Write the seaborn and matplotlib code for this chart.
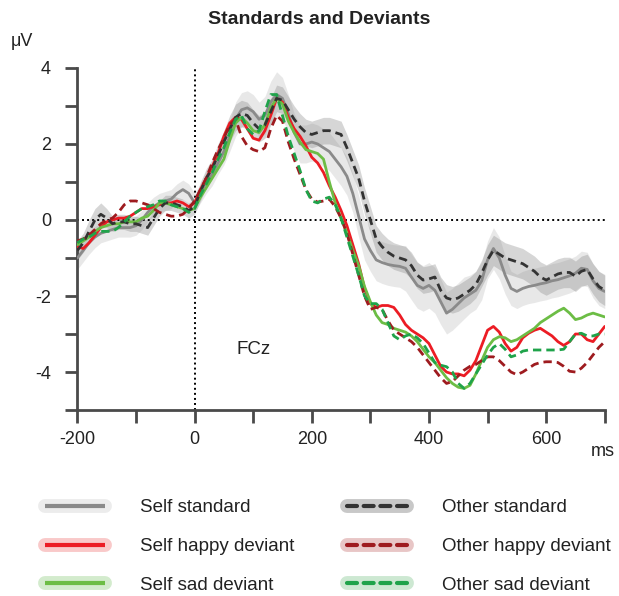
import numpy as np
import pandas as pd
import seaborn as sns
import matplotlib.pyplot as plt
from matplotlib.lines import Line2D
from matplotlib.legend_handler import HandlerTuple

# time axis (ms), one sample every 10 ms
times = list(range(-200, 701, 10))

self_standard = [
    -1.0, -0.8, -0.6, -0.45, -0.35, -0.3, -0.25, -0.2, -0.2, -0.2,
    -0.15, 0.0, 0.2, 0.35, 0.45, 0.5, 0.55, 0.7, 0.8, 0.7,
    0.45, 0.7, 1.0, 1.2, 1.5, 1.8, 2.2, 2.65, 2.9, 2.95,
    2.85, 2.65, 2.75, 3.1, 3.3, 3.2, 2.8, 2.3, 2.0, 2.0,
    2.05, 2.0, 1.9, 1.8, 1.6, 1.4, 1.15, 0.7, 0.1, -0.5,
    -0.8, -1.05, -1.12, -1.17, -1.2, -1.22, -1.27, -1.5, -1.72, -1.8,
    -1.72, -1.85, -2.15, -2.45, -2.35, -2.2, -2.05, -1.95, -1.85, -1.6,
    -1.05, -0.75, -1.0, -1.45, -1.8, -1.88, -1.8, -1.75, -1.72, -1.68,
    -1.65, -1.6, -1.57, -1.52, -1.47, -1.4, -1.27, -1.3, -1.6, -1.8,
    -1.88]
other_standard = [
    -0.8, -0.6, -0.3, 0.0, 0.15, 0.05, -0.1, -0.05, -0.05, -0.1,
    -0.1, -0.15, -0.2, 0.05, 0.3, 0.45, 0.45, 0.4, 0.35, 0.25,
    0.35, 0.75, 1.1, 1.35, 1.7, 2.05, 2.4, 2.7, 2.8, 2.75,
    2.55, 2.4, 2.5, 2.85, 3.2, 3.15, 2.9, 2.65, 2.45, 2.3,
    2.25, 2.3, 2.35, 2.35, 2.3, 2.25, 1.9, 1.5, 1.1, 0.5,
    0.0, -0.5, -0.7, -0.85, -0.95, -1.0, -1.05, -1.2, -1.45, -1.58,
    -1.55, -1.5, -1.85, -2.05, -2.1, -2.05, -1.95, -1.85, -1.7, -1.4,
    -1.05, -0.8, -0.9, -1.0, -1.05, -1.1, -1.15, -1.25, -1.35, -1.5,
    -1.58, -1.5, -1.42, -1.38, -1.38, -1.48, -1.35, -1.3, -1.55, -1.75,
    -1.85]
self_happy = [
    -0.7, -0.75, -0.6, -0.4, -0.2, -0.05, 0.0, 0.05, 0.05, 0.1,
    0.2, 0.3, 0.3, 0.35, 0.4, 0.45, 0.45, 0.5, 0.45, 0.35,
    0.45, 0.8, 1.1, 1.4, 1.75, 2.2, 2.55, 2.7, 2.65, 2.4,
    2.15, 2.1, 2.35, 2.75, 3.2, 3.1, 2.7, 2.4, 2.2, 1.95,
    1.65, 1.5, 1.25, 0.9, 0.6, 0.25, -0.15, -0.65, -1.15, -1.8,
    -2.2, -2.3, -2.25, -2.25, -2.3, -2.5, -2.75, -2.9, -3.0, -3.1,
    -3.25, -3.55, -3.85, -4.0, -4.05, -4.05, -4.1, -3.95, -3.7, -3.3,
    -2.9, -2.8, -2.95, -3.25, -3.45, -3.35, -3.1, -2.98, -2.9, -2.85,
    -2.95, -3.05, -3.2, -3.3, -3.2, -3.0, -3.0, -3.15, -3.2, -3.0,
    -2.8]
other_happy = [
    -0.55, -0.5, -0.4, -0.25, -0.1, 0.0, 0.05, 0.2, 0.4, 0.5,
    0.5, 0.45, 0.4, 0.3, 0.2, 0.15, 0.1, 0.1, 0.15, 0.3,
    0.5, 0.8, 1.1, 1.5, 1.85, 2.15, 2.5, 2.65, 2.2, 1.95,
    1.85, 1.8, 1.9, 2.4, 2.75, 2.6, 2.05, 1.6, 1.2, 0.8,
    0.55, 0.47, 0.5, 0.55, 0.35, 0.05, -0.35, -0.9, -1.45, -2.0,
    -2.35, -2.3, -2.35, -2.65, -2.9, -3.0, -3.1, -3.2, -3.35, -3.55,
    -3.75, -3.95, -4.15, -4.3, -4.25, -4.1, -3.95, -3.85, -3.8, -3.7,
    -3.6, -3.6, -3.7, -3.85, -4.0, -4.07, -4.0, -3.9, -3.8, -3.75,
    -3.73, -3.73, -3.75, -3.85, -3.98, -4.0, -3.9, -3.75, -3.55, -3.35,
    -3.2]
self_sad = [
    -0.65, -0.55, -0.45, -0.3, -0.2, -0.15, -0.1, -0.1, -0.05, -0.05,
    -0.05, 0.05, 0.1, 0.25, 0.45, 0.45, 0.4, 0.35, 0.3, 0.25,
    0.3, 0.6, 0.85, 1.1, 1.35, 1.6, 2.1, 2.55, 2.7, 2.55,
    2.35, 2.3, 2.5, 2.95, 3.2, 3.05, 2.6, 2.3, 2.05, 1.85,
    1.8, 1.75, 1.6, 1.0, 0.45, 0.05, -0.35, -0.8, -1.2, -1.75,
    -2.15, -2.5, -2.7, -2.75, -2.85, -2.9, -2.95, -3.05, -3.2, -3.4,
    -3.6, -3.75, -3.95, -4.15, -4.3, -4.4, -4.43, -4.35, -4.05, -3.7,
    -3.35, -3.15, -3.07, -3.1, -3.2, -3.15, -3.05, -2.95, -2.85, -2.7,
    -2.6, -2.5, -2.4, -2.32, -2.45, -2.62, -2.58, -2.5, -2.45, -2.5,
    -2.55]
other_sad = [
    -0.6, -0.5, -0.45, -0.35, -0.3, -0.3, -0.3, -0.2, -0.05, 0.1,
    0.2, 0.3, 0.35, 0.4, 0.5, 0.5, 0.4, 0.35, 0.3, 0.2,
    0.3, 0.65, 0.95, 1.25, 1.6, 1.9, 2.3, 2.65, 2.75, 2.4,
    2.25, 2.35, 2.85, 3.3, 3.3, 2.75, 2.2, 1.75, 1.3, 0.8,
    0.5, 0.45, 0.55, 0.6, 0.4, 0.05, -0.45, -0.95, -1.45, -2.0,
    -2.2, -2.2, -2.35, -2.7, -3.05, -3.15, -3.05, -3.0, -3.1, -3.25,
    -3.5, -3.75, -3.82, -3.86, -4.0, -4.3, -4.43, -4.3, -4.05, -3.8,
    -3.55, -3.35, -3.25, -3.4, -3.6, -3.55, -3.45, -3.42, -3.42, -3.42,
    -3.42, -3.42, -3.42, -3.4, -3.2, -3.0, -2.98, -3.05, -3.05, -3.0,
    -3.0]

# standard errors of the two standards (shaded bands)
self_standard_se = [
    0.3, 0.3, 0.3, 0.28, 0.25, 0.25, 0.25, 0.25, 0.25, 0.25,
    0.25, 0.25, 0.25, 0.25, 0.25, 0.25, 0.25, 0.25, 0.25, 0.25,
    0.25, 0.25, 0.3, 0.3, 0.3, 0.35, 0.4, 0.45, 0.45, 0.45,
    0.45, 0.45, 0.5, 0.55, 0.6, 0.55, 0.5, 0.5, 0.5, 0.5,
    0.5, 0.5, 0.5, 0.5, 0.5, 0.5, 0.5, 0.5, 0.55, 0.55,
    0.55, 0.55, 0.55, 0.55, 0.55, 0.55, 0.6, 0.6, 0.6, 0.6,
    0.6, 0.6, 0.6, 0.55, 0.55, 0.55, 0.55, 0.5, 0.5, 0.5,
    0.5, 0.55, 0.55, 0.5, 0.45, 0.45, 0.45, 0.45, 0.45, 0.45,
    0.45, 0.45, 0.45, 0.45, 0.45, 0.45, 0.45, 0.45, 0.45, 0.45,
    0.45]
other_standard_se = [
    0.25, 0.25, 0.3, 0.3, 0.3, 0.25, 0.2, 0.2, 0.2, 0.2,
    0.2, 0.2, 0.2, 0.2, 0.2, 0.2, 0.2, 0.2, 0.2, 0.2,
    0.2, 0.25, 0.25, 0.25, 0.3, 0.3, 0.35, 0.35, 0.35, 0.35,
    0.35, 0.35, 0.35, 0.35, 0.35, 0.35, 0.35, 0.35, 0.35, 0.35,
    0.35, 0.35, 0.35, 0.35, 0.35, 0.35, 0.35, 0.35, 0.35, 0.35,
    0.35, 0.35, 0.35, 0.35, 0.35, 0.35, 0.35, 0.35, 0.35, 0.35,
    0.35, 0.35, 0.35, 0.35, 0.35, 0.35, 0.35, 0.35, 0.35, 0.35,
    0.4, 0.4, 0.4, 0.4, 0.4, 0.4, 0.4, 0.4, 0.4, 0.4,
    0.4, 0.4, 0.4, 0.4, 0.4, 0.4, 0.4, 0.4, 0.4, 0.4,
    0.4]

conditions = ["Self standard", "Self happy deviant", "Self sad deviant",
              "Other standard", "Other happy deviant", "Other sad deviant"]
series = [self_standard, self_happy, self_sad,
          other_standard, other_happy, other_sad]
colors = ["#8a8a8a", "#ec1c24", "#6cbd45", "#333333", "#9e1b1f", "#1fa34a"]
band_colors = ["#ececec", "#f9c9c9", "#d3ebcd", "#c8c8c8", "#e8c6c6", "#cde8d2"]
dashed = [False, False, False, True, True, True]

df = pd.concat([pd.DataFrame({"ms": times, "uV": v, "cond": c})
                for c, v in zip(conditions, series)])

sns.set_theme(style="ticks")
plt.rcParams['font.family'] = ['Liberation Sans', 'DejaVu Sans']
spine_col = "#4a4a4a"
text_col = "#222222"

fig, ax = plt.subplots(figsize=(6.19, 5.96), dpi=100)
fig.subplots_adjust(left=0.125, right=0.977, top=0.886, bottom=0.312)

# SE bands of the standards
ax.fill_between(times, np.array(self_standard) - self_standard_se,
                np.array(self_standard) + self_standard_se,
                color="#9a9a9a", alpha=0.22, lw=0, zorder=1)
ax.fill_between(times, np.array(other_standard) - other_standard_se,
                np.array(other_standard) + other_standard_se,
                color="#8a8a8a", alpha=0.35, lw=0, zorder=1)

ax.axhline(0, color="black", lw=1.4, ls=(0, (1, 1.6)), zorder=2)
ax.axvline(0, color="black", lw=1.4, ls=(0, (1, 1.6)), zorder=2)

sns.lineplot(data=df, x="ms", y="uV", hue="cond", style="cond",
             hue_order=conditions, style_order=conditions,
             palette=dict(zip(conditions, colors)),
             dashes={c: ((3, 1.8) if d else "") for c, d in zip(conditions, dashed)},
             linewidth=2.0, legend=False, ax=ax, zorder=3)

ax.set_xlim(-200, 700)
ax.set_ylim(-5, 4)
ax.set_xticks(range(-200, 701, 100))
ax.set_xticklabels([str(t) if t % 200 == 0 else "" for t in range(-200, 701, 100)])
ax.set_yticks(range(-5, 5))
ax.set_yticklabels([str(v) if v % 2 == 0 else "" for v in range(-5, 5)])
ax.set_xlabel("")
ax.set_ylabel("")
sns.despine(ax=ax)
for s in ["left", "bottom"]:
    ax.spines[s].set_linewidth(2)
    ax.spines[s].set_color(spine_col)
ax.tick_params(axis="both", length=9, width=2, color=spine_col,
               labelsize=13, labelcolor=text_col)
ax.tick_params(axis="y", pad=10)
ax.tick_params(axis="x", pad=6)

ax.text(100, -3.4, "FCz", ha="center", va="center", fontsize=13.5, color=text_col)

fig.text(319 / 619, 1 - 20 / 596, "Standards and Deviants", ha="center",
         va="center", fontsize=14, fontweight="bold", color=text_col)
fig.text(22 / 619, 1 - 42 / 596, "μV", ha="center", va="center",
         fontsize=13, color=text_col)
fig.text(603 / 619, 1 - 451 / 596, "ms", ha="center", va="center",
         fontsize=13, color=text_col)

# legend: light band behind each line
handles = []
for col, bcol, d in zip(colors, band_colors, dashed):
    band = Line2D([], [], color=bcol, lw=10, solid_capstyle="round")
    line = Line2D([], [], color=col, lw=3,
                  ls=(0, (2.4, 1.6)) if d else "-",
                  dash_capstyle="round", solid_capstyle="butt")
    handles.append((band, line))
fig.legend(handles, conditions,
           handler_map={tuple: HandlerTuple(ndivide=1, pad=0)},
           ncol=2, loc="upper left", bbox_to_anchor=(36 / 619, 1 - 490 / 596),
           frameon=False, fontsize=13.5, handlelength=3.2, handletextpad=1.87,
           columnspacing=2.76, labelspacing=1.15, borderpad=0,
           labelcolor=text_col)

fig.savefig("out.png", dpi=100)
